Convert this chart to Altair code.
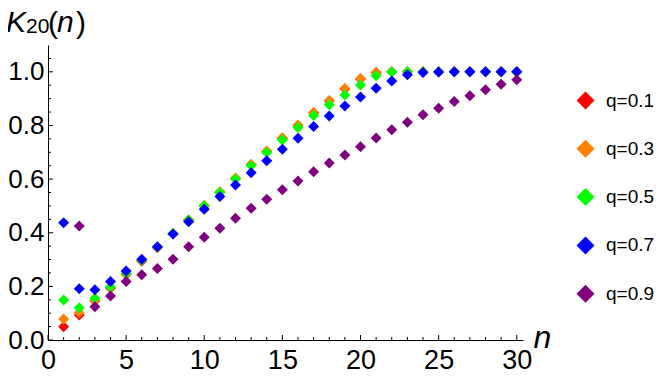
import altair as alt
import pandas as pd

n_values = list(range(1, 31))

q01 = [0.049, 0.093, 0.145, 0.193, 0.244, 0.294, 0.344, 0.395, 0.446, 0.500,
       0.551, 0.602, 0.653, 0.703, 0.752, 0.800, 0.846, 0.891, 0.936, 0.973,
       0.996, 1.0, 1.0, 1.0, 1.0, 1.0, 1.0, 1.0, 1.0, 1.0]
q03 = [0.078, 0.102, 0.147, 0.195, 0.246, 0.296, 0.346, 0.397, 0.448, 0.502,
       0.553, 0.604, 0.655, 0.705, 0.754, 0.802, 0.848, 0.893, 0.938, 0.975,
       0.998, 1.0, 1.0, 1.0, 1.0, 1.0, 1.0, 1.0, 1.0, 1.0]
q05 = [0.149, 0.120, 0.156, 0.199, 0.249, 0.297, 0.347, 0.397, 0.447, 0.500,
       0.550, 0.600, 0.650, 0.699, 0.746, 0.792, 0.837, 0.877, 0.914, 0.951,
       0.985, 0.999, 1.0, 1.0, 1.0, 1.0, 1.0, 1.0, 1.0, 1.0]
q07 = [0.437, 0.191, 0.187, 0.218, 0.257, 0.301, 0.348, 0.395, 0.441, 0.488,
       0.535, 0.578, 0.624, 0.668, 0.711, 0.752, 0.796, 0.835, 0.873, 0.906,
       0.939, 0.966, 0.989, 0.997, 0.999, 1.0, 1.0, 1.0, 1.0, 1.0]
q09 = [None, 0.425, 0.124, 0.164, 0.218, 0.243, 0.267, 0.301, 0.348, 0.383,
       0.417, 0.454, 0.491, 0.525, 0.560, 0.593, 0.627, 0.660, 0.690, 0.721,
       0.753, 0.784, 0.812, 0.840, 0.864, 0.889, 0.911, 0.933, 0.954, 0.970]

series_labels = ["q=0.1", "q=0.3", "q=0.5", "q=0.7", "q=0.9"]
series_colors = ["#FF0000", "#FF8000", "#00FF00", "#0000FF", "#800080"]

x_label_values = [0, 5, 10, 15, 20, 25, 30]
y_label_values = [0.0, 0.2, 0.4, 0.6, 0.8, 1.0]
x_major_ticks = [0, 5, 10, 15, 20, 25, 30]
x_minor_ticks = [1, 2, 3, 4, 6, 7, 8, 9, 11, 12, 13, 14, 16, 17, 18, 19,
                 21, 22, 23, 24, 26, 27, 28, 29]
y_major_ticks = [0.0, 0.2, 0.4, 0.6, 0.8, 1.0]
y_minor_ticks = [0.05, 0.1, 0.15, 0.25, 0.3, 0.35, 0.45, 0.5, 0.55, 0.65,
                 0.7, 0.75, 0.85, 0.9, 0.95, 1.05]

rows = []
for k, (lab, vals) in enumerate(zip(series_labels, [q01, q03, q05, q07, q09])):
    for n, v in zip(n_values, vals):
        if v is not None:
            rows.append({"n": n, "K": v, "q": lab, "k": k})
df = pd.DataFrame(rows)

W, H = 475, 295
FONT = "Liberation Sans"
xscale = alt.Scale(domain=[0, 30.4], nice=False, zero=False)
yscale = alt.Scale(domain=[0, 1.1], nice=False, zero=False)

x_axis = alt.Axis(
    values=x_label_values, ticks=False, grid=False, labelFontSize=27,
    labelFont=FONT, labelColor="black", domainColor="black",
    labelPadding=7, labelFlush=False, labelOverlap=False,
    title="n", titleFont=FONT, titleFontSize=32, titleFontStyle="italic",
    titleFontWeight="normal", titleColor="black", titleX=485, titleY=7,
    titleAlign="left", titleBaseline="alphabetic")
y_axis = alt.Axis(
    values=y_label_values, format=".1f", ticks=False, grid=False,
    labelFontSize=26, labelFont=FONT, labelColor="black",
    domainColor="black", labelPadding=4, labelFlush=False,
    labelOverlap=False, title=None)

points = alt.Chart(df).mark_point(
    shape="diamond", filled=True, size=121, opacity=1, strokeWidth=0
).encode(
    x=alt.X("n:Q", scale=xscale, axis=x_axis),
    y=alt.Y("K:Q", scale=yscale, axis=y_axis),
    color=alt.Color("q:N", scale=alt.Scale(domain=series_labels, range=series_colors),
                    legend=alt.Legend(
                        orient="none", legendX=528, legendY=46, title=None,
                        symbolType="diamond", symbolSize=324, symbolStrokeWidth=0,
                        symbolOpacity=1, labelFontSize=19, labelFont=FONT,
                        labelColor="black", labelOffset=11, rowPadding=28.3,
                        padding=0)),
    order=alt.Order("k:Q"),
)

def xticks(vals, length):
    return alt.Chart(pd.DataFrame({"n": vals})).mark_rule(
        color="black", strokeWidth=1).encode(
        x=alt.X("n:Q", scale=xscale, axis=x_axis),
        y=alt.value(H), y2=alt.value(H - length))

def yticks(vals, length):
    return alt.Chart(pd.DataFrame({"K": vals})).mark_rule(
        color="black", strokeWidth=1).encode(
        y=alt.Y("K:Q", scale=yscale, axis=y_axis),
        x=alt.value(0), x2=alt.value(length))

def label(s, px, py, size, style):
    return alt.Chart(pd.DataFrame({"s": [s]})).mark_text(
        font=FONT, fontSize=size, fontStyle=style, align="left",
        baseline="alphabetic", color="black").encode(
        text="s:N", x=alt.value(px), y=alt.value(py))

title_layers = [
    label("K", -42, -13, 30, "italic"),
    label("20", -22, -12, 21, "normal"),
    label("(", 0, -12, 30, "normal"),
    label("n", 9, -13, 30, "italic"),
    label(")", 28, -12, 30, "normal"),
]

chart = alt.layer(
    xticks(x_minor_ticks, 3), xticks(x_major_ticks, 5),
    yticks(y_minor_ticks, 3), yticks(y_major_ticks, 5),
    points, *title_layers
).properties(
    width=W, height=H,
    autosize=alt.AutoSizeParams(type="none"),
    padding={"left": 40, "top": 37, "right": 133, "bottom": 34},
).configure_view(stroke=None)

chart.save("out.html", embed_options={"renderer": "svg", "actions": False})
